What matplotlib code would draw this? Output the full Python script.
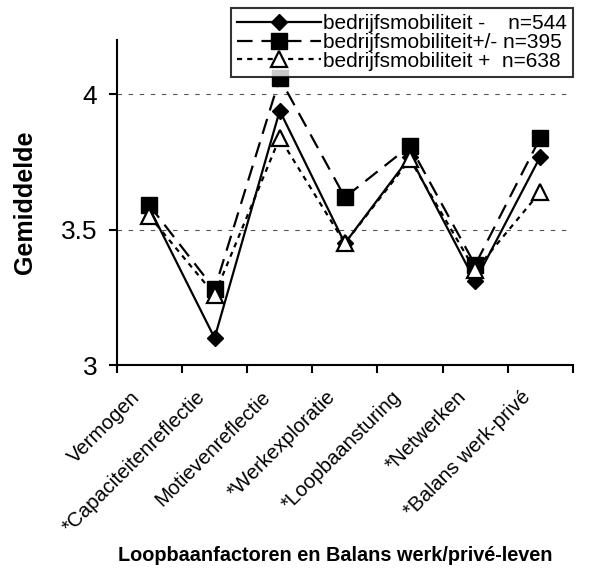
import matplotlib
matplotlib.use("Agg")
import matplotlib.pyplot as plt
import matplotlib.transforms as mtransforms
import numpy as np

plt.rcParams['font.family'] = ['Liberation Sans', 'DejaVu Sans']

categories = ['Vermogen', '*Capaciteitenreflectie', 'Motievenreflectie',
              '*Werkexploratie', '*Loopbaansturing', '*Netwerken',
              '*Balans werk-privé']
mob_min = [3.58, 3.10, 3.94, 3.45, 3.77, 3.31, 3.77]
mob_mid = [3.59, 3.28, 4.06, 3.62, 3.81, 3.37, 3.84]
mob_plus = [3.55, 3.26, 3.84, 3.45, 3.76, 3.35, 3.64]
labels = ['bedrijfsmobiliteit -    n=544',
          'bedrijfsmobiliteit+/- n=395',
          'bedrijfsmobiliteit +  n=638']
yticks = [3, 3.5, 4]

fig = plt.figure(figsize=(6.12, 5.85), dpi=100)
ax = fig.add_axes([0.191, 0.376, 0.745, 0.555])

x = np.arange(len(categories))
h1, = ax.plot(x, mob_min, color='black', lw=1.6, marker='D', ms=8,
              mfc='black', mec='black')
h2, = ax.plot(x, mob_mid, color='black', lw=1.6, ls=(0, (7, 4)), marker='s',
              ms=11.5, mfc='black', mec='black')
h3, = ax.plot(x, mob_plus, color='black', lw=1.6, ls=(0, (2.3, 2.3)), marker='^',
              ms=11, mfc='white', mec='black', mew=1.6)

for y in yticks[1:]:
    ax.axhline(y, color='#555555', lw=0.8, ls=(0, (4, 6)), zorder=0)

ax.set_xlim(-0.5, len(categories) - 0.5)
ax.set_ylim(3, 4.2)
ax.set_yticks(yticks)
ax.set_yticklabels(['3', '3.5', '4'], fontsize=19)
ax.set_xticks(np.arange(len(categories) + 1) - 0.5)
ax.set_xticklabels([])
ax.set_xticks(x, minor=True)
ax.set_xticklabels(categories, minor=True, rotation=45, ha='right',
                   va='top', rotation_mode='anchor', fontsize=14.7)
ax.tick_params(axis='x', which='minor', length=0, pad=16)
ax.tick_params(axis='both', which='major', direction='out', length=6,
               width=1.5, color='black')
ax.tick_params(axis='y', pad=8)
# shift the slanted category labels a bit to the left of their points
shift = mtransforms.ScaledTranslation(-0.19, 0, fig.dpi_scale_trans)
for lbl in ax.get_xticklabels(minor=True):
    lbl.set_transform(lbl.get_transform() + shift)
for s in ['top', 'right']:
    ax.spines[s].set_visible(False)
for s in ['left', 'bottom']:
    ax.spines[s].set_linewidth(1.5)

ax.set_ylabel('Gemiddelde', fontsize=18, fontweight='bold')
ax.yaxis.set_label_coords(-0.176, 0.5, transform=ax.transAxes)
fig.text(0.548, 0.05, 'Loopbaanfactoren en Balans werk/privé-leven',
         ha='center', va='center', fontsize=14.3, fontweight='bold')

leg = fig.legend([h1, h2, h3], labels, loc='upper right',
                 bbox_to_anchor=(0.936, 0.986), fontsize=15, frameon=True,
                 fancybox=False, edgecolor='black', handlelength=4.0,
                 handletextpad=0.1, labelspacing=-0.02, borderpad=0.3,
                 borderaxespad=0)
leg.get_frame().set_linewidth(1.5)

fig.savefig('out.png', dpi=100)
